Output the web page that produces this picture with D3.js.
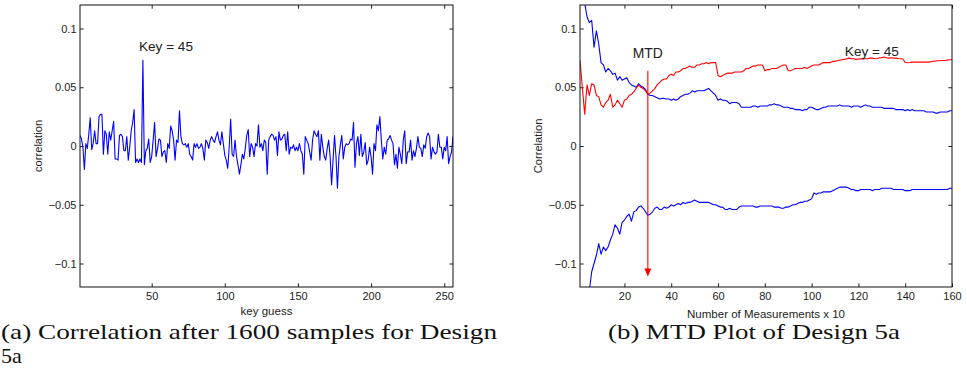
<!DOCTYPE html>
<html>
<head>
<meta charset="utf-8">
<script src="https://cdn.jsdelivr.net/npm/d3@7"></script>
<style>
  html, body { margin: 0; padding: 0; background: #fff; }
  svg { display: block; }
  .tick text { font-family: "Liberation Sans", Arial, Helvetica, sans-serif; font-size: 11px; fill: #222; }
  .tick line { stroke: #222; stroke-width: 1; }
  .lbl { font-family: "Liberation Sans", Arial, Helvetica, sans-serif; fill: #222; }
  .cap { font-family: "Liberation Serif", "Times New Roman", Times, serif; fill: #111; }
</style>
</head>
<body>
<svg id="chart" width="967" height="385"></svg>
<script>
// ---------------- DATA ----------------
// (a) correlation for each key guess 1..256 after 1600 samples
const keyGuessCorr = [
 0.009,0.006,-0.001,-0.020,0.002,-0.002,0.010,0.024,-0.003,0.002,
 0.013,0.002,0.002,0.025,0.027,0.027,-0.007,0.013,0.010,-0.007,
 0.012,0.005,0.013,0.021,-0.011,-0.011,-0.012,0.009,0.010,0.008,
 -0.004,-0.004,0.008,-0.012,-0.001,0.013,0.020,0.031,-0.014,-0.011,
 -0.014,-0.011,-0.014,0.073,-0.016,-0.004,-0.002,0.006,-0.014,-0.009,
 0.005,0.020,-0.009,-0.002,0.006,0.005,-0.009,-0.005,-0.004,-0.014,
 0.002,-0.002,0.017,0.013,0.005,-0.012,0.005,0.003,0.030,0.008,
 0.002,0.001,0.002,-0.001,0.002,-0.007,-0.009,-0.012,0.002,-0.001,
 0.002,-0.002,-0.001,0.002,-0.002,-0.012,0.005,0.003,-0.002,0.005,
 0.008,0.005,0.003,0.008,0.012,0.005,0.001,0.012,0.002,-0.008,
 -0.012,-0.019,-0.001,0.023,-0.007,-0.009,0.005,-0.009,-0.016,-0.024,
 -0.016,-0.007,-0.011,-0.002,0.009,0.014,-0.009,0.002,-0.001,-0.009,
 0.002,0.000,0.018,-0.001,0.002,-0.004,0.005,0.003,-0.024,0.005,
 0.008,0.010,0.009,0.005,0.008,-0.008,0.012,0.005,0.006,0.009,
 0.010,-0.004,0.012,-0.007,-0.001,-0.002,0.001,-0.004,-0.001,-0.004,
 0.002,-0.004,-0.007,-0.024,0.008,0.005,0.002,-0.005,-0.012,0.005,
 0.013,0.010,0.008,0.013,-0.012,0.010,-0.001,-0.009,-0.012,-0.002,
 0.005,-0.009,-0.033,-0.012,0.009,-0.009,-0.036,-0.009,0.001,0.009,
 -0.011,-0.001,0.002,0.001,0.002,0.006,0.005,0.020,-0.018,0.002,
 0.008,-0.008,0.010,-0.009,-0.005,0.003,-0.016,-0.012,-0.001,-0.009,
 -0.024,0.002,-0.004,0.018,0.013,0.025,0.005,-0.011,-0.001,-0.007,
 0.005,0.006,0.009,0.005,0.002,-0.016,-0.007,-0.019,-0.001,-0.007,
 -0.015,0.005,0.013,-0.015,-0.005,-0.005,0.005,-0.012,-0.004,-0.009,
 -0.002,0.008,-0.001,-0.002,-0.009,0.001,-0.002,0.008,0.011,0.008,
 -0.011,-0.001,-0.005,-0.007,-0.005,0.010,-0.001,-0.001,-0.011,-0.001,
 -0.004,0.008,-0.015,-0.009,-0.005,0.008
];

// (b) MTD plot, measurements x10 = 1..160
const correctKeyCorr = [
 0.073,0.050,0.027,0.052,0.043,0.053,0.052,0.043,0.042,0.035,
 0.033,0.037,0.039,0.044,0.033,0.035,0.039,0.036,0.033,0.039,
 0.040,0.043,0.044,0.046,0.049,0.052,0.050,0.049,0.047,0.044,
 0.045,0.047,0.049,0.052,0.054,0.056,0.057,0.057,0.060,0.061,
 0.060,0.063,0.063,0.064,0.066,0.066,0.067,0.068,0.067,0.067,
 0.069,0.069,0.070,0.070,0.071,0.070,0.071,0.071,0.071,0.060,
 0.059,0.060,0.061,0.062,0.062,0.062,0.063,0.063,0.063,0.063,
 0.064,0.066,0.066,0.067,0.068,0.068,0.069,0.069,0.069,0.064,
 0.065,0.065,0.066,0.066,0.066,0.067,0.068,0.069,0.069,0.064,
 0.064,0.065,0.066,0.066,0.066,0.066,0.067,0.066,0.067,0.068,
 0.069,0.069,0.069,0.070,0.071,0.071,0.071,0.071,0.072,0.072,
 0.0725,0.073,0.0734,0.0737,0.0743,0.0748,0.0743,0.0743,0.0737,0.074,
 0.0743,0.074,0.0743,0.0743,0.0748,0.0748,0.0743,0.0745,0.0751,0.0751,
 0.0757,0.0751,0.0748,0.0751,0.0748,0.0748,0.0745,0.0743,0.074,0.0711,
 0.0709,0.0711,0.0714,0.0714,0.0714,0.0714,0.0714,0.0714,0.0714,0.0714,
 0.0717,0.072,0.0723,0.0725,0.0725,0.0728,0.0728,0.0731,0.0734,0.0734
];
const wrongKeyMax = [
 0.135,0.128,0.122,0.110,0.105,0.107,0.084,0.098,0.087,0.071,
 0.069,0.063,0.066,0.064,0.061,0.062,0.056,0.059,0.056,0.057,
 0.058,0.054,0.052,0.051,0.050,0.053,0.051,0.050,0.048,0.044,
 0.043,0.043,0.042,0.041,0.040,0.0405,0.0405,0.040,0.040,0.039,
 0.040,0.039,0.040,0.042,0.043,0.044,0.044,0.045,0.047,0.046,
 0.047,0.047,0.047,0.047,0.048,0.049,0.047,0.045,0.043,0.039,
 0.040,0.039,0.039,0.038,0.036,0.037,0.037,0.037,0.036,0.033,
 0.033,0.033,0.033,0.033,0.034,0.034,0.033,0.034,0.034,0.034,
 0.034,0.035,0.035,0.036,0.035,0.035,0.034,0.033,0.033,0.033,
 0.032,0.032,0.031,0.031,0.031,0.030,0.031,0.031,0.033,0.033,
 0.032,0.031,0.031,0.032,0.033,0.033,0.034,0.034,0.034,0.034,
 0.034,0.035,0.034,0.034,0.034,0.034,0.033,0.034,0.034,0.034,
 0.033,0.034,0.035,0.034,0.034,0.033,0.033,0.033,0.033,0.033,
 0.032,0.032,0.032,0.032,0.032,0.031,0.031,0.031,0.031,0.030,
 0.031,0.030,0.031,0.030,0.030,0.030,0.030,0.030,0.029,0.029,
 0.029,0.029,0.028,0.028,0.029,0.029,0.029,0.029,0.030,0.030
];
const wrongKeyMin = [
 -0.160,-0.150,-0.140,-0.130,-0.123,-0.107,-0.100,-0.093,-0.083,-0.092,
 -0.086,-0.089,-0.086,-0.080,-0.075,-0.067,-0.070,-0.075,-0.065,-0.063,
 -0.060,-0.058,-0.064,-0.056,-0.055,-0.052,-0.051,-0.053,-0.056,-0.059,
 -0.058,-0.056,-0.053,-0.052,-0.054,-0.054,-0.052,-0.053,-0.052,-0.050,
 -0.051,-0.050,-0.049,-0.050,-0.048,-0.049,-0.048,-0.048,-0.047,-0.046,
 -0.047,-0.048,-0.048,-0.048,-0.048,-0.048,-0.049,-0.050,-0.050,-0.051,
 -0.052,-0.052,-0.054,-0.054,-0.053,-0.054,-0.054,-0.054,-0.052,-0.051,
 -0.051,-0.051,-0.051,-0.051,-0.051,-0.052,-0.052,-0.051,-0.051,-0.051,
 -0.051,-0.051,-0.051,-0.052,-0.052,-0.052,-0.053,-0.053,-0.052,-0.052,
 -0.051,-0.050,-0.050,-0.049,-0.048,-0.048,-0.047,-0.047,-0.046,-0.045,
 -0.040,-0.041,-0.040,-0.040,-0.039,-0.039,-0.039,-0.039,-0.038,-0.037,
 -0.036,-0.035,-0.035,-0.035,-0.035,-0.036,-0.037,-0.037,-0.038,-0.038,
 -0.037,-0.037,-0.037,-0.037,-0.037,-0.038,-0.037,-0.037,-0.037,-0.036,
 -0.036,-0.036,-0.036,-0.036,-0.037,-0.037,-0.037,-0.037,-0.037,-0.038,
 -0.038,-0.038,-0.037,-0.037,-0.037,-0.037,-0.037,-0.037,-0.037,-0.037,
 -0.037,-0.037,-0.037,-0.037,-0.037,-0.037,-0.037,-0.037,-0.036,-0.036
];

const yTicks = [-0.1, -0.05, 0, 0.05, 0.1];
const xTicksA = [50, 100, 150, 200, 250];
const xTicksB = [20, 40, 60, 80, 100, 120, 140, 160];
const yDomain = [-0.12, 0.12];
const xDomainA = [1, 256];
const xDomainB = [1, 160];

// annotations (data coordinates)
const keyLabel = "Key = 45";
const keyLabelA = { x: 41.3, y: 0.081 };
const keyLabelB = { x: 114.2, y: 0.077 };
const mtdValue = 30;
const mtdArrow = { from: 0.064, to: -0.111 };
const mtdLabelY = 0.075;

const captionA1 = "(a) Correlation after 1600 samples for Design";
const captionA2 = "5a";
const captionB = "(b) MTD Plot of Design 5a";

// ---------------- DRAW ----------------
const svg = d3.select("#chart");
const plotTop = 5, plotBottom = 287;
const tickLen = 3.7;
const fmt = d => d === 0 ? "0" : (d < 0 ? "\u2212" : "") + String(Math.abs(d));

function panel(id, left, right, xDomain, xTicks) {
  const x = d3.scaleLinear().domain(xDomain).range([left, right]);
  const y = d3.scaleLinear().domain(yDomain).range([plotBottom, plotTop]);
  const g = svg.append("g");
  g.append("clipPath").attr("id", id).append("rect")
    .attr("x", left).attr("y", plotTop).attr("width", right - left).attr("height", plotBottom - plotTop);

  const ax = [];
  ax.push(g.append("g").attr("transform", `translate(0,${plotBottom})`)
    .call(d3.axisBottom(x).tickValues(xTicks).tickSizeInner(-tickLen).tickSizeOuter(0).tickPadding(5.5)));
  ax.push(g.append("g").attr("transform", `translate(0,${plotTop})`)
    .call(d3.axisTop(x).tickValues(xTicks).tickSizeInner(-tickLen).tickSizeOuter(0).tickFormat("")));
  ax.push(g.append("g").attr("transform", `translate(${left},0)`)
    .call(d3.axisLeft(y).tickValues(yTicks).tickSizeInner(-tickLen).tickSizeOuter(0).tickPadding(3.5).tickFormat(fmt)));
  ax.push(g.append("g").attr("transform", `translate(${right},0)`)
    .call(d3.axisRight(y).tickValues(yTicks).tickSizeInner(-tickLen).tickSizeOuter(0).tickFormat("")));
  ax.forEach(a => { a.select(".domain").remove(); a.attr("font-family", null).attr("font-size", null); });

  const plot = g.append("g").attr("clip-path", `url(#${id})`);
  g.append("rect").attr("x", left).attr("y", plotTop).attr("width", right - left).attr("height", plotBottom - plotTop)
    .attr("fill", "none").attr("stroke", "#111").attr("stroke-width", 1);
  return { x, y, g, plot };
}

function line(plot, x, y, data, color) {
  const gen = d3.line().x((d, i) => x(i + 1)).y(d => y(d));
  plot.append("path").datum(data).attr("d", gen)
    .attr("fill", "none").attr("stroke", color).attr("stroke-width", 1.1).attr("stroke-linejoin", "round");
}

// Panel (a)
const A = panel("clipA", 80, 453, xDomainA, xTicksA);
line(A.plot, A.x, A.y, keyGuessCorr, "#0000ff");
A.g.append("text").attr("class", "lbl").attr("x", A.x(keyLabelA.x)).attr("y", A.y(keyLabelA.y))
  .attr("font-size", 13.6).text(keyLabel);
A.g.append("text").attr("class", "lbl").attr("font-size", 11.5).attr("text-anchor", "middle")
  .attr("x", (80 + 453) / 2).attr("y", 315).text("key guess");
A.g.append("text").attr("class", "lbl").attr("font-size", 11.2).attr("text-anchor", "middle")
  .attr("transform", `translate(42,${(plotTop + plotBottom) / 2}) rotate(-90)`).text("correlation");

// Panel (b)
const B = panel("clipB", 580, 952, xDomainB, xTicksB);
line(B.plot, B.x, B.y, wrongKeyMin, "#0000ff");
line(B.plot, B.x, B.y, wrongKeyMax, "#0000ff");
line(B.plot, B.x, B.y, correctKeyCorr, "#ff0000");
// MTD arrow
const ax0 = B.x(mtdValue), ay0 = B.y(mtdArrow.from), ay1 = B.y(mtdArrow.to);
B.g.append("line").attr("x1", ax0).attr("x2", ax0).attr("y1", ay0).attr("y2", ay1 - 6)
  .attr("stroke", "#ff0000").attr("stroke-width", 1.1);
B.g.append("path").attr("d", `M${ax0 - 3.5},${ay1 - 8} L${ax0 + 3.5},${ay1 - 8} L${ax0},${ay1} Z`)
  .attr("fill", "#ff0000");
B.g.append("text").attr("class", "lbl").attr("font-size", 13.9).attr("text-anchor", "middle")
  .attr("x", ax0).attr("y", B.y(mtdLabelY)).text("MTD");
B.g.append("text").attr("class", "lbl").attr("x", B.x(keyLabelB.x)).attr("y", B.y(keyLabelB.y))
  .attr("font-size", 13.6).text(keyLabel);
B.g.append("text").attr("class", "lbl").attr("font-size", 11.5).attr("text-anchor", "middle")
  .attr("x", (580 + 952) / 2).attr("y", 318).text("Number of Measurements x 10");
B.g.append("text").attr("class", "lbl").attr("font-size", 11.2).attr("text-anchor", "middle")
  .attr("transform", `translate(542,${(plotTop + plotBottom) / 2}) rotate(-90)`).text("Correlation");

// Captions
svg.append("text").attr("class", "cap").attr("x", 1).attr("y", 339).attr("font-size", 22)
  .attr("textLength", 496).attr("lengthAdjust", "spacingAndGlyphs").text(captionA1);
svg.append("text").attr("class", "cap").attr("x", 1).attr("y", 363).attr("font-size", 22)
  .text(captionA2);
svg.append("text").attr("class", "cap").attr("x", 608).attr("y", 339).attr("font-size", 22)
  .attr("textLength", 292).attr("lengthAdjust", "spacingAndGlyphs").text(captionB);
</script>
</body>
</html>
